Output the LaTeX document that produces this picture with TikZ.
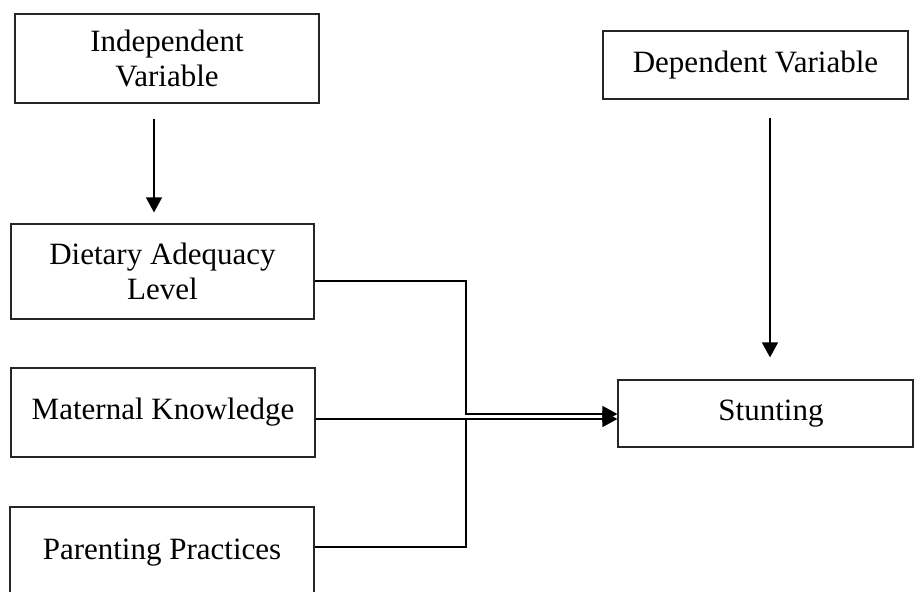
\documentclass[tikz,border=0pt]{standalone}
\usepackage{fontspec}
\setmainfont{Liberation Serif}
\usetikzlibrary{arrows.meta}
\begin{document}
\begin{tikzpicture}[x=1pt,y=-1pt,
  box/.style={draw=black!85,line width=1.2pt,inner sep=0pt,align=center,
    font=\fontsize{31}{35}\selectfont},
  link/.style={draw=black,line width=1.4pt},
  arr/.style={link,-{Triangle[length=15pt,width=16pt]}}]
\useasboundingbox (0,0) rectangle (914,592);
\node[box,minimum width=304pt,minimum height=89pt] (ind) at (167,58.5) {Independent\\Variable};
\node[box,minimum width=305pt,minimum height=68pt] (dep) at (755.5,65) {Dependent Variable};
\node[box,minimum width=303pt,minimum height=95pt] (diet) at (162.5,271.5) {Dietary Adequacy\\Level};
\node[box,minimum width=304pt,minimum height=89pt] (mat) at (163,412.5) {Maternal Knowledge};
\node[box,minimum width=304pt,minimum height=92pt] (par) at (162,553) {Parenting Practices};
\node[box,minimum width=295pt,minimum height=67pt] (stunt) at (765.5,413.5) {\hspace*{11pt}Stunting};
\coordinate (jtop) at (466,281);
\coordinate (jmid) at (466,414);
\coordinate (jlow) at (466,419);
\coordinate (jbot) at (466,547);
\draw[arr] ([xshift=-13pt,yshift=-15pt]ind.south) -- ([xshift=-8.5pt,yshift=11pt]diet.north);
\draw[arr] ([xshift=14.5pt,yshift=-18pt]dep.south) -- ([xshift=4.5pt,yshift=22pt]stunt.north);
\draw[arr] ([yshift=-9.5pt]diet.east) -- (jtop) -- (jmid) -- ([yshift=-0.5pt]stunt.west);
\draw[arr] ([yshift=-6.5pt]mat.east) -- ([yshift=-5.5pt]stunt.west);
\draw[link] ([yshift=6pt]par.east) -- (jbot) -- (jlow);
\end{tikzpicture}
\end{document}
